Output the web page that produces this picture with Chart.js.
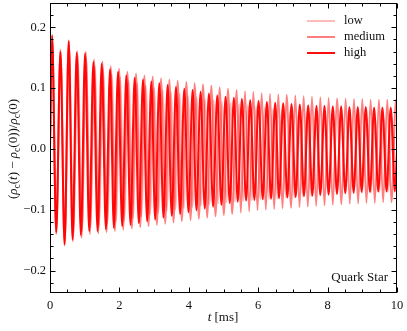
<!DOCTYPE html>
<html>
<head>
<meta charset="utf-8">
<script src="https://cdn.jsdelivr.net/npm/chart.js@4"></script>
<style>
  html, body { margin: 0; padding: 0; background: #fff; }
  #wrap { width: 407px; height: 331px; }
</style>
</head>
<body>
<div id="wrap"><canvas id="chart"></canvas></div>
<script>
// --- data (times in ms of each local max / min) ---
const xTicks = [0, 2, 4, 6, 8, 10];
const yTicks = [-0.2, -0.1, 0, 0.1, 0.2];
const seriesLabels = ["low", "medium", "high"];

const edgeT = [0, 10];

// high
const highPeakT = [0.06, 0.30, 0.54, 0.77, 1.01, 1.25, 1.49, 1.73, 1.96, 2.20, 2.44, 2.68, 2.92, 3.15, 3.39, 3.63, 3.87, 4.11, 4.34, 4.58, 4.82,
  5.06, 5.30, 5.53, 5.77, 6.01, 6.25, 6.49, 6.72, 6.96, 7.20, 7.44, 7.68, 7.91, 8.15, 8.39, 8.63, 8.87, 9.10, 9.34, 9.58, 9.82];
const highPeakV = [0.186, 0.160, 0.177, 0.158, 0.157, 0.143, 0.140, 0.131, 0.127, 0.121, 0.117, 0.114, 0.111, 0.108, 0.105, 0.102, 0.099, 0.097, 0.094, 0.091, 0.088,
  0.086, 0.084, 0.082, 0.080, 0.079, 0.077, 0.076, 0.075, 0.074, 0.073, 0.072, 0.071, 0.071, 0.070, 0.070, 0.069, 0.069, 0.069, 0.068, 0.068, 0.068];
const highTroughT = [0.18, 0.42, 0.65, 0.89, 1.13, 1.37, 1.61, 1.84, 2.08, 2.32, 2.56, 2.80, 3.03, 3.27, 3.51, 3.75, 3.99, 4.22, 4.46, 4.70, 4.94,
  5.18, 5.41, 5.65, 5.89, 6.13, 6.37, 6.60, 6.84, 7.08, 7.32, 7.56, 7.79, 8.03, 8.27, 8.51, 8.75, 8.98, 9.22, 9.46, 9.70, 9.94];
const highTroughV = [-0.137, -0.157, -0.149, -0.142, -0.135, -0.135, -0.132, -0.130, -0.127, -0.125, -0.122, -0.119, -0.116, -0.113, -0.110, -0.107, -0.104, -0.101, -0.098, -0.095, -0.092,
  -0.089, -0.087, -0.085, -0.084, -0.083, -0.082, -0.081, -0.080, -0.079, -0.078, -0.077, -0.076, -0.075, -0.074, -0.073, -0.072, -0.071, -0.071, -0.070, -0.070, -0.070];
const highEdgeV = [0, -0.005];

// medium
const mediumPeakT = [0.06, 0.30, 0.54, 0.78, 1.03, 1.27, 1.51, 1.75, 1.99, 2.23, 2.48, 2.72, 2.96, 3.20, 3.44, 3.68, 3.93, 4.17, 4.41, 4.65, 4.89,
  5.13, 5.38, 5.62, 5.86, 6.10, 6.34, 6.58, 6.82, 7.07, 7.31, 7.55, 7.79, 8.03, 8.27, 8.52, 8.76, 9.00, 9.24, 9.48, 9.72, 9.97];
const mediumPeakV = [0.188, 0.163, 0.179, 0.161, 0.160, 0.147, 0.144, 0.136, 0.132, 0.127, 0.124, 0.121, 0.119, 0.116, 0.114, 0.112, 0.110, 0.108, 0.106, 0.104, 0.101,
  0.099, 0.097, 0.095, 0.094, 0.092, 0.091, 0.090, 0.089, 0.088, 0.087, 0.086, 0.085, 0.084, 0.083, 0.083, 0.082, 0.082, 0.081, 0.081, 0.081, 0.080];
const mediumTroughT = [0.18, 0.42, 0.66, 0.91, 1.15, 1.39, 1.63, 1.87, 2.11, 2.36, 2.60, 2.84, 3.08, 3.32, 3.56, 3.80, 4.05, 4.29, 4.53, 4.77, 5.01,
  5.25, 5.50, 5.74, 5.98, 6.22, 6.46, 6.70, 6.95, 7.19, 7.43, 7.67, 7.91, 8.15, 8.40, 8.64, 8.88, 9.12, 9.36, 9.60, 9.84];
const mediumTroughV = [-0.140, -0.159, -0.152, -0.146, -0.140, -0.139, -0.137, -0.135, -0.133, -0.131, -0.129, -0.127, -0.125, -0.123, -0.121, -0.119, -0.117, -0.115, -0.113, -0.111, -0.109,
  -0.107, -0.105, -0.103, -0.101, -0.100, -0.099, -0.098, -0.097, -0.096, -0.095, -0.094, -0.093, -0.092, -0.091, -0.090, -0.090, -0.089, -0.089, -0.088, -0.088];
const mediumEdgeV = [0, 0.078];

// low
const lowPeakT = [0.06, 0.31, 0.55, 0.80, 1.04, 1.29, 1.53, 1.78, 2.02, 2.27, 2.51, 2.76, 3.00, 3.25, 3.49, 3.74, 3.98, 4.23, 4.47, 4.72, 4.96,
  5.21, 5.45, 5.70, 5.94, 6.19, 6.43, 6.68, 6.92, 7.17, 7.41, 7.66, 7.90, 8.15, 8.39, 8.64, 8.88, 9.13, 9.37, 9.62, 9.86];
const lowPeakV = [0.184, 0.158, 0.172, 0.153, 0.150, 0.136, 0.132, 0.123, 0.118, 0.112, 0.108, 0.104, 0.100, 0.097, 0.094, 0.091, 0.088, 0.085, 0.082, 0.080, 0.078,
  0.076, 0.074, 0.072, 0.070, 0.068, 0.066, 0.064, 0.062, 0.061, 0.060, 0.058, 0.057, 0.056, 0.055, 0.054, 0.053, 0.052, 0.051, 0.050, 0.049];
const lowTroughT = [0.18, 0.43, 0.67, 0.92, 1.16, 1.41, 1.65, 1.90, 2.14, 2.39, 2.63, 2.88, 3.12, 3.37, 3.61, 3.86, 4.10, 4.35, 4.59, 4.84, 5.08,
  5.33, 5.57, 5.82, 6.06, 6.31, 6.55, 6.80, 7.04, 7.29, 7.53, 7.78, 8.02, 8.27, 8.51, 8.76, 9.00, 9.25, 9.49, 9.74, 9.98];
const lowTroughV = [-0.135, -0.153, -0.144, -0.136, -0.129, -0.127, -0.123, -0.120, -0.117, -0.114, -0.111, -0.108, -0.105, -0.102, -0.100, -0.098, -0.096, -0.094, -0.092, -0.090, -0.088,
  -0.087, -0.086, -0.085, -0.084, -0.083, -0.082, -0.081, -0.080, -0.079, -0.078, -0.077, -0.076, -0.075, -0.074, -0.073, -0.072, -0.072, -0.071, -0.071, -0.070];
const lowEdgeV = [0, -0.069];

// juntar picos, vales e extremos em pontos {x, y}
function buildSeries(pT, pV, tT, tV, eV) {
    const pts = [];
    edgeT.forEach((t, i) => pts.push({ x: t, y: eV[i] }));
    pT.forEach((t, i) => pts.push({ x: t, y: pV[i] }));
    tT.forEach((t, i) => pts.push({ x: t, y: tV[i] }));
    return pts.sort((a, b) => a.x - b.x);
}

const serif = "'Liberation Serif', 'DejaVu Serif', serif";
const minus = "\u2212";

// === ticks para dentro + moldura ===
const framePlugin = {
    id: "frame",
    afterDatasetsDraw(chart) {
        const ctx = chart.ctx, a = chart.chartArea;
        const xs = chart.scales.x, ys = chart.scales.y;
        const L = Math.round(a.left) + 0.5, R = Math.round(a.right) - 0.5;
        const T = Math.round(a.top) + 0.5, B = Math.round(a.bottom) - 0.5;
        ctx.save();
        ctx.strokeStyle = "#000";
        ctx.lineWidth = 1;
        ctx.strokeRect(L, T, R - L, B - T);
        ctx.beginPath();
        for (let i = 0; i <= 20; i++) {
            const x = Math.round(xs.getPixelForValue(i * 0.5)) + 0.5;
            const len = i % 4 === 0 ? 5 : 3;
            ctx.moveTo(x, B); ctx.lineTo(x, B - len);
            ctx.moveTo(x, T); ctx.lineTo(x, T + len);
        }
        for (let i = -11; i <= 12; i++) {
            const y = Math.round(ys.getPixelForValue(i * 0.02)) + 0.5;
            const len = i % 5 === 0 ? 5 : 3;
            ctx.moveTo(L, y); ctx.lineTo(L + len, y);
            ctx.moveTo(R, y); ctx.lineTo(R - len, y);
        }
        ctx.stroke();
        ctx.restore();
    }
};

// === legenda, rótulos e texto ===
function drawRuns(ctx, runs, x, y) {
    let w = 0;
    runs.forEach(r => { ctx.font = r.font; w += ctx.measureText(r.text).width; });
    let cx = x - w / 2;
    runs.forEach(r => {
        ctx.font = r.font;
        ctx.fillText(r.text, cx, y + (r.dy || 0));
        cx += ctx.measureText(r.text).width;
    });
}

const textPlugin = {
    id: "texts",
    afterDraw(chart) {
        const ctx = chart.ctx;
        ctx.save();
        ctx.fillStyle = "#111";
        ctx.textBaseline = "middle";

        // legenda
        chart.data.datasets.forEach((ds, i) => {
            const y = 21 + i * 16;
            ctx.strokeStyle = ds.borderColor;
            ctx.lineWidth = 2;
            ctx.beginPath();
            ctx.moveTo(307, y); ctx.lineTo(335, y);
            ctx.stroke();
            ctx.font = "12.5px " + serif;
            ctx.textAlign = "left";
            ctx.fillText(ds.label, 344, y);
        });

        // Quark Star
        ctx.font = "13px " + serif;
        ctx.textAlign = "right";
        ctx.fillText("Quark Star", 388, 278);

        ctx.textAlign = "left";
        const up = "13px " + serif, it = "italic 13px " + serif, sub = "9.5px " + serif;

        // eixo x
        drawRuns(ctx, [
            { text: "t", font: it },
            { text: " [ms]", font: up }
        ], 223, 318);

        // eixo y
        ctx.translate(14, 149);
        ctx.rotate(-Math.PI / 2);
        drawRuns(ctx, [
            { text: "(", font: up }, { text: "ρ", font: it }, { text: "c", font: sub, dy: 3 },
            { text: "(", font: up }, { text: "t", font: it }, { text: ") " + minus + " ", font: up },
            { text: "ρ", font: it }, { text: "c", font: sub, dy: 3 },
            { text: "(0))/", font: up },
            { text: "ρ", font: it }, { text: "c", font: sub, dy: 3 },
            { text: "(0)", font: up }
        ], 0, 0);
        ctx.restore();
    }
};

new Chart(document.getElementById("chart"), {
    type: "line",
    data: {
        datasets: [
            {
                label: seriesLabels[0],
                data: buildSeries(lowPeakT, lowPeakV, lowTroughT, lowTroughV, lowEdgeV),
                borderColor: "rgba(255, 0, 0, 0.27)",
                order: 3
            },
            {
                label: seriesLabels[1],
                data: buildSeries(mediumPeakT, mediumPeakV, mediumTroughT, mediumTroughV, mediumEdgeV),
                borderColor: "rgba(255, 0, 0, 0.5)",
                order: 2
            },
            {
                label: seriesLabels[2],
                data: buildSeries(highPeakT, highPeakV, highTroughT, highTroughV, highEdgeV),
                borderColor: "rgba(255, 0, 0, 0.95)",
                borderWidth: 2,
                order: 1
            }
        ]
    },
    options: {
        responsive: true,
        maintainAspectRatio: false,
        animation: false,
        layout: { padding: { top: 3, right: 10, left: 0, bottom: 0 } },
        elements: {
            point: { radius: 0 },
            line: { borderWidth: 1.9, cubicInterpolationMode: "monotone", fill: false }
        },
        plugins: { legend: { display: false }, tooltip: { enabled: false } },
        scales: {
            x: {
                type: "linear",
                min: 0, max: 10,
                grid: { display: false, drawTicks: false },
                border: { display: false },
                afterBuildTicks: s => { s.ticks = xTicks.map(v => ({ value: v })); },
                afterFit: s => { s.height = 38; s.paddingLeft = 0; s.paddingRight = 0; },
                ticks: {
                    padding: 5,
                    color: "#111",
                    font: { family: serif, size: 12.5 },
                    maxRotation: 0,
                    callback: v => String(v)
                }
            },
            y: {
                type: "linear",
                min: -0.237, max: 0.24,
                grid: { display: false, drawTicks: false },
                border: { display: false },
                afterBuildTicks: s => { s.ticks = yTicks.map(v => ({ value: v })); },
                afterFit: s => { s.width = 50; s.paddingTop = 0; s.paddingBottom = 0; },
                ticks: {
                    padding: 4,
                    color: "#111",
                    font: { family: serif, size: 12.5 },
                    callback: v => v.toFixed(1).replace("-", minus)
                }
            }
        }
    },
    plugins: [framePlugin, textPlugin]
});
</script>
</body>
</html>
